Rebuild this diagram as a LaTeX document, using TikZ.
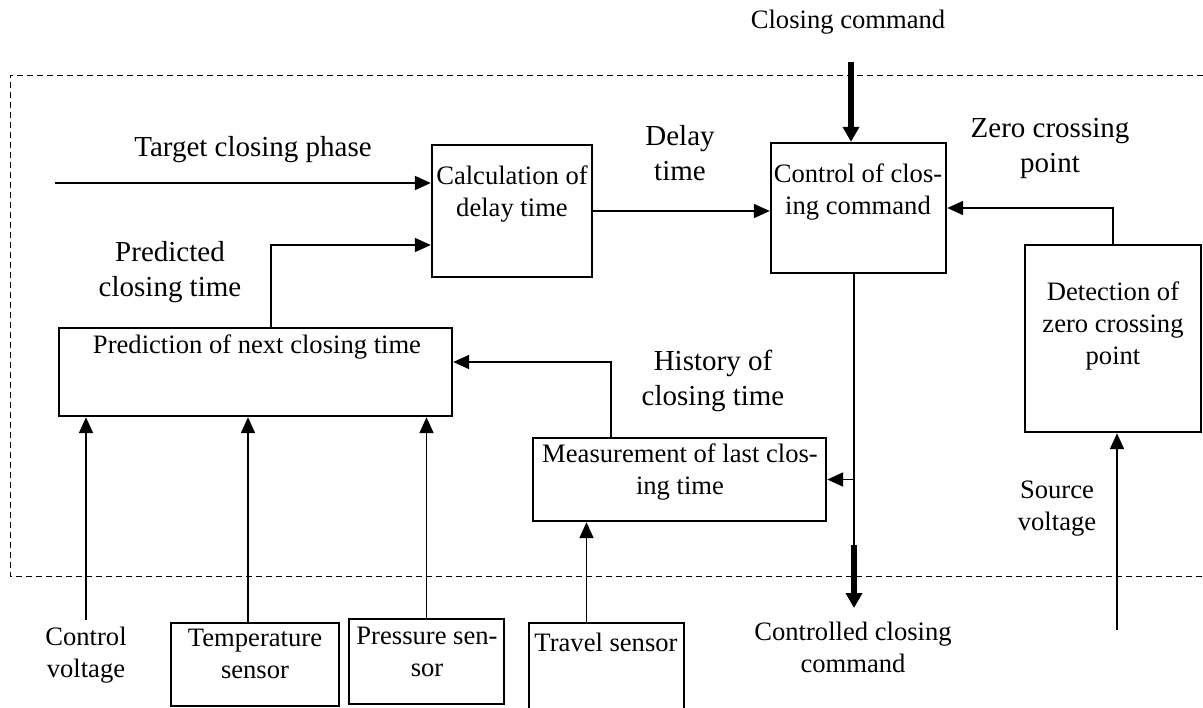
\documentclass[tikz,border=0pt]{standalone}
\usepackage{fontspec}
\setmainfont{Liberation Serif}
\usetikzlibrary{arrows.meta,calc}

\begin{document}
\begin{tikzpicture}[x=0.5pt,y=-0.5pt,
  blk/.style={draw,line width=1.2pt,inner sep=0pt},
  sm/.style={font=\fontsize{13.3}{16}\selectfont,align=center,inner sep=0pt},
  lg/.style={font=\fontsize{14.5}{17.5}\selectfont,align=center,inner sep=0pt},
  arr/.style={-{Triangle[length=8pt,width=7pt]},line width=0.95pt},
  thk/.style={-{Triangle[length=7.5pt,width=8pt]},line width=2.8pt}]
\useasboundingbox (0,0) rectangle (1203,707);
% dashed frame of the controller
\draw[line width=0.5pt,dash pattern=on 3pt off 2pt] (1203,75) -- (10,75) -- (10,576) -- (1203,576);
% blocks
\node[blk,minimum width=80pt,minimum height=66pt] (calc) at (512,211) {};
\node[blk,minimum width=87.5pt,minimum height=65pt] (ctrl) at (858.5,208) {};
\node[blk,minimum width=88pt,minimum height=93.5pt] (det) at (1113,338.5) {};
\node[blk,minimum width=196.5pt,minimum height=44pt] (pred) at (255.5,372) {};
\node[blk,minimum width=146.5pt,minimum height=41.5pt] (meas) at (679.5,479.5) {};
\node[blk,minimum width=84pt,minimum height=41.5pt] (temp) at (255,664.5) {};
\node[blk,minimum width=77.5pt,minimum height=42.5pt] (pres) at (426.5,661.5) {};
\node[blk,minimum width=77.5pt,minimum height=43pt] (trav) at (606.5,666) {};
\node[sm] (calct) at (512,194) {Calculation of\\delay time};
\node[sm] (ctrlt) at (858,192) {Control of clos-\\ing command};
\node[sm] (dett) at (1113,326) {Detection of\\zero crossing\\point};
\node[sm] (predt) at (257,347) {Prediction of next closing time};
\node[sm] (meast) at (680,472) {Measurement of last clos-\\ing time};
\node[sm] (tempt) at (255,654) {Temperature\\sensor};
\node[sm] (prest) at (427,652) {Pressure sen-\\sor};
\node[sm] (travt) at (606,642) {Travel sensor};
% signal names
\node[lg] (tcp) at (253,150) {Target closing phase};
\node[lg] (pct) at (170,272) {Predicted\\closing time};
\node[lg] (dly) at (680,153) {Delay\\time};
\node[lg] (zcp) at (1050,148) {Zero crossing\\point};
\node[lg] (hist) at (713,381) {History of\\closing time};
\node[sm] (cc) at (848,22) {Closing command};
\node[sm] (ccc) at (853,647) {Controlled closing\\command};
\node[sm] (cvl) at (86,655) {Control\\voltage};
\node[sm] (svl) at (1057,509) {Source\\voltage};
% free ends
\coordinate (tin) at (55,183);
\coordinate (ccs) at (851,62);
\coordinate (cj) at (854,545);
\coordinate (cout) at (854,608);
\coordinate (cv) at (86,620);
\coordinate (sv) at (1117,630);
% connectors
\draw[arr] (tin) -- (tin -| calc.west);
\draw[arr] ($(pred.north)+(15.5,0)$) |- ($(calc.west)+(0,34)$);
\draw[arr] (calc.east) -- (calc.east -| ctrl.west);
\draw[thk] (ccs) -- (ccs |- ctrl.north);
\draw[arr] (det.north) |- (ctrl.east);
\draw[line width=0.95pt] (cj |- ctrl.south) -- (cj);
\draw[thk] (cj) -- (cout);
\draw[arr] (cj |- meas.east) -- (meas.east);
\draw[arr] ($(meas.north)+(-68.5,0)$) |- ($(pred.east)+(0,-10)$);
\draw[arr] (cv) -- (cv |- pred.south);
\draw[arr] ($(temp.north)+(-7,0)$) -- ($(temp.north |- pred.south)+(-7,0)$);
\draw[arr] (pres.north) -- (pres.north |- pred.south);
\draw[arr] ($(trav.north)+(-20,0)$) -- ($(trav.north |- meas.south)+(-20,0)$);
\draw[arr] (sv) -- (sv |- det.south);
\end{tikzpicture}
\end{document}
